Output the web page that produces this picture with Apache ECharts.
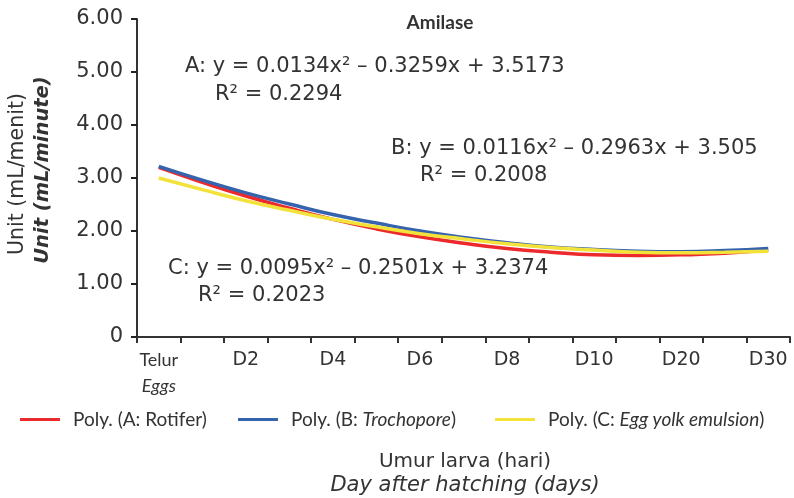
<!DOCTYPE html>
<html lang="en">
<head>
    <meta charset="UTF-8">
    <script type="text/javascript" src="https://cdn.jsdelivr.net/npm/echarts@6/dist/echarts.min.js"></script>
    <style>
        body { margin: 0; background: #fff; }
    </style>
</head>
<body>
    <div id="main" style="height: 498px;width: 794px"></div>
    <script type="text/javascript">
        // hari / day categories
        var days = ['Telur', 'D1', 'D2', 'D3', 'D4', 'D5', 'D6', 'D7', 'D8', 'D9', 'D10', 'D15', 'D20', 'D25', 'D30'];
        // trendline values
        var rotifer = [3.20, 2.92, 2.66, 2.43, 2.22, 2.04, 1.89, 1.77, 1.67, 1.60, 1.55, 1.54, 1.55, 1.58, 1.64];
        var trochopore = [3.22, 2.96, 2.72, 2.51, 2.31, 2.15, 2.00, 1.88, 1.78, 1.70, 1.65, 1.62, 1.61, 1.63, 1.67];
        var eggYolk = [3.00, 2.78, 2.57, 2.39, 2.22, 2.08, 1.95, 1.85, 1.76, 1.69, 1.64, 1.60, 1.59, 1.60, 1.62];
        var yTicks = [0, 1, 2, 3, 4, 5, 6];

        var narrowFont = 'Lato, "Liberation Sans", sans-serif';
        var wideFont = '"DejaVu Sans", sans-serif';
        var txt = '#333';

        var myChart = echarts.init(document.getElementById('main'));
        var legendRich = {
            i: { fontStyle: 'italic', fontFamily: narrowFont, fontSize: 19, color: txt }
        };
        function lineSeries(name, data, color) {
            return {
                name: name,
                type: 'line',
                data: data,
                smooth: true,
                symbol: 'none',
                lineStyle: { color: color, width: 3.5 },
                itemStyle: { color: color }
            };
        }
        function oneLegend(name, left) {
            return {
                data: [name],
                left: left,
                top: 410,
                padding: 0,
                icon: 'rect',
                itemWidth: 40,
                itemHeight: 3,
                itemGap: 14,
                formatter: function (n) {
                    if (n === 'B') return 'Poly. (B: {i|Trochopore})';
                    if (n === 'C') return 'Poly. (C: {i|Egg yolk emulsion})';
                    return 'Poly. (A: Rotifer)';
                },
                textStyle: { fontFamily: narrowFont, fontSize: 19, color: txt, padding: [0, 0, 0, 8], rich: legendRich }
            };
        }
        function eq(text, left, top) {
            return { type: 'text', left: left, top: top, style: { text: text, font: '21px ' + wideFont, fill: txt } };
        }

        var option = {
            animation: false,
            title: {
                text: 'Amilase',
                left: 435,
                top: 8,
                textAlign: 'center',
                textStyle: { fontFamily: narrowFont, fontSize: 19, fontWeight: 'bold', color: txt }
            },
            legend: [oneLegend('A', 20), oneLegend('B', 238), oneLegend('C', 495)],
            grid: { left: 137, right: 4, top: 19, bottom: 161 },
            xAxis: {
                type: 'category',
                data: days,
                boundaryGap: true,
                axisLine: { show: true, lineStyle: { color: '#333', width: 2 } },
                axisTick: { show: true, inside: false, interval: 0, length: 6, lineStyle: { color: '#333', width: 2 } },
                axisLabel: {
                    interval: 1,
                    margin: 10,
                    fontFamily: wideFont,
                    fontSize: 19,
                    color: txt,
                    lineHeight: 26,
                    formatter: function (v) {
                        return v === 'Telur' ? '{n|Telur}\n{i|Eggs}' : v;
                    },
                    rich: {
                        n: { fontFamily: narrowFont, fontSize: 18, color: txt, lineHeight: 26 },
                        i: { fontStyle: 'italic', fontFamily: narrowFont, fontSize: 18, color: txt, lineHeight: 26 }
                    }
                }
            },
            yAxis: {
                type: 'value',
                min: yTicks[0],
                max: yTicks[yTicks.length - 1],
                interval: 1,
                axisLine: { show: true, lineStyle: { color: '#333', width: 2 } },
                axisTick: { show: true, inside: false, length: 6, lineStyle: { color: '#222', width: 2 } },
                splitLine: { show: false },
                axisLabel: {
                    margin: 14,
                    fontFamily: wideFont,
                    fontSize: 21,
                    color: txt,
                    formatter: function (v) { return v === 0 ? '0' : v.toFixed(2); }
                }
            },
            series: [
                lineSeries('A', rotifer, '#ec2a2c'),
                lineSeries('B', trochopore, '#3563ad'),
                lineSeries('C', eggYolk, '#f2e23a')
            ],
            graphic: [
                eq('A: y = 0.0134x² – 0.3259x + 3.5173', 185, 56),
                eq('R² = 0.2294', 215, 84),
                eq('B: y = 0.0116x² – 0.2963x + 3.505', 391, 138),
                eq('R² = 0.2008', 420, 165),
                eq('C: y = 0.0095x² – 0.2501x + 3.2374', 168, 258),
                eq('R² = 0.2023', 198, 285),
                // y axis name, two lines
                { type: 'text', x: 18, y: 174, rotation: Math.PI / 2, style: { text: 'Unit (mL/menit)', font: '20.5px ' + wideFont, fill: txt, align: 'center', verticalAlign: 'middle' } },
                { type: 'text', x: 43, y: 170, rotation: Math.PI / 2, style: { text: 'Unit (mL/minute)', font: 'italic bold 19.5px ' + wideFont, fill: txt, align: 'center', verticalAlign: 'middle' } },
                // x axis name, two lines
                { type: 'text', x: 465, y: 462, style: { text: 'Umur larva (hari)', font: '20px ' + wideFont, fill: txt, align: 'center', verticalAlign: 'middle' } },
                { type: 'text', x: 465, y: 486, style: { text: 'Day after hatching (days)', font: 'italic 21px ' + wideFont, fill: txt, align: 'center', verticalAlign: 'middle' } }
            ]
        };
        myChart.setOption(option);
    </script>
</body>
</html>
